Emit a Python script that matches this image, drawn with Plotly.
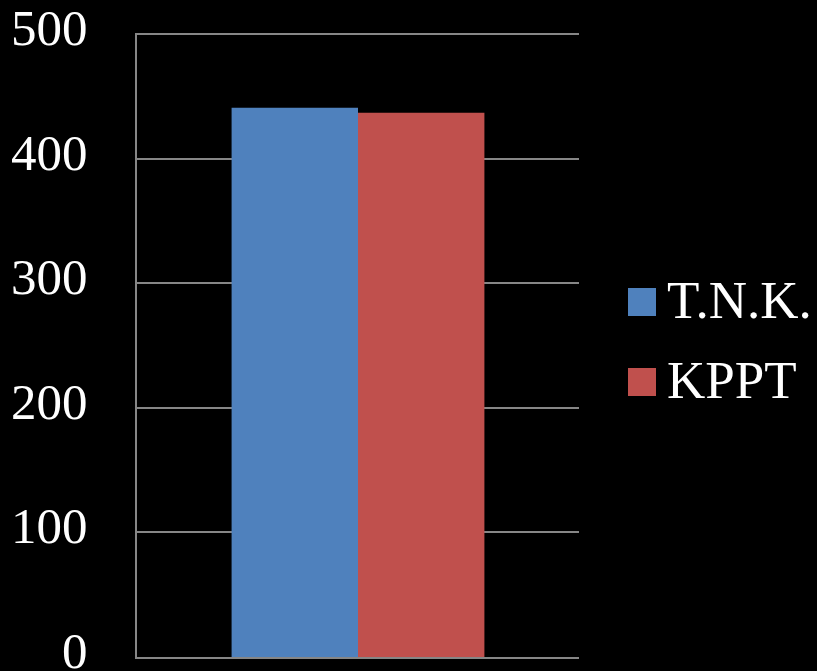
import plotly.graph_objects as go

categories = ["Kategori 1"]
series_names = ["T.N.K.", "KPPT"]
series_values = [[441], [437]]
series_colors = ["#4F81BD", "#C0504D"]
y_ticks = [0, 100, 200, 300, 400, 500]

FONT = "Liberation Serif"

W, H = 817, 671
PT, PB, PL, PR = 33, 657, 137, 579   # plot box in pixels

fig = go.Figure()
for name, vals, col in zip(series_names, series_values, series_colors):
    fig.add_trace(go.Bar(x=categories, y=vals, name=name, marker=dict(color=col, line=dict(width=0)),
                         showlegend=False))

shapes = []
annotations = []

# y tick labels (placed on the y scale, nudged slightly above each gridline)
for t in y_ticks:
    annotations.append(dict(xref="paper", yref="y", x=0, y=t, text=str(t), showarrow=False,
                            xanchor="right", yanchor="middle", xshift=-47, yshift=6,
                            font=dict(family=FONT, size=51, color="white")))

# manual legend (large square swatches like the original)
legend_y = [302, 382]  # pixel centres


def py(p):
    return (PB - p) / (PB - PT)


for name, col, yc in zip(series_names, series_colors, legend_y):
    shapes.append(dict(type="rect", xref="paper", yref="paper",
                       x0=(628 - PL) / (PR - PL), x1=(656 - PL) / (PR - PL),
                       y0=py(yc + 14), y1=py(yc - 14),
                       fillcolor=col, line=dict(width=0)))
    annotations.append(dict(xref="paper", yref="paper", x=(665 - PL) / (PR - PL),
                            y=py(yc - 2), text=name, showarrow=False,
                            xanchor="left", yanchor="middle",
                            font=dict(family=FONT, size=53, color="white")))

fig.update_layout(
    template="none",
    width=W, height=H,
    paper_bgcolor="black", plot_bgcolor="black",
    margin=dict(l=PL, r=W - PR, t=PT, b=H - PB, autoexpand=False),
    barmode="group", bargap=0.428, bargroupgap=0,
    showlegend=False,
    shapes=shapes, annotations=annotations,
    xaxis=dict(showticklabels=False, showgrid=False, showline=True, linecolor="#868686",
               linewidth=2, zeroline=False, ticks="", automargin=False),
    yaxis=dict(range=[0, 501], tickvals=y_ticks, showgrid=True, gridcolor="#868686", gridwidth=2,
               showline=True, linecolor="#868686", linewidth=2, zeroline=False,
               showticklabels=False, ticks="", automargin=False),
)

fig.write_html("out.html")
